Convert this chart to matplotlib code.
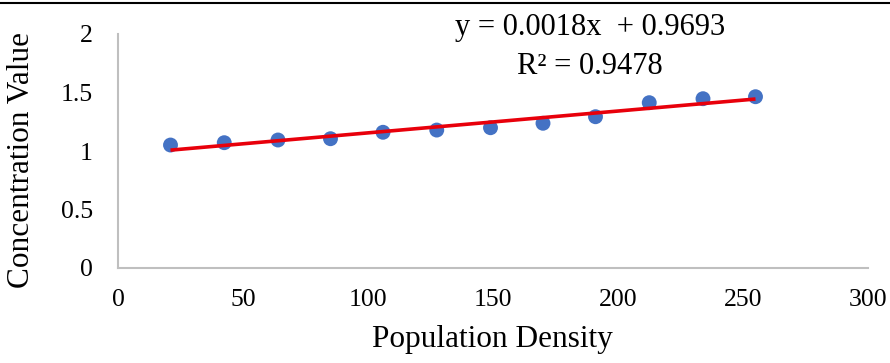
import numpy as np
import matplotlib.pyplot as plt
from matplotlib.lines import Line2D

plt.rcParams['font.family'] = ['Liberation Serif', 'DejaVu Serif']

# --- data ---
density = [21, 42.5, 64, 85, 106, 127.5, 149, 170, 191, 212.5, 234, 255]
concentration = [1.051, 1.071, 1.094, 1.105, 1.160, 1.179,
                 1.199, 1.237, 1.293, 1.413, 1.447, 1.464]
eq_text = "y = 0.0018x  + 0.9693"
r2_text = "R² = 0.9478"
x_ticks = [0, 50, 100, 150, 200, 250, 300]
y_ticks = [0, 0.5, 1, 1.5, 2]

fig = plt.figure(figsize=(8.9, 3.63), dpi=100)
ax = fig.add_axes([118 / 890, 1 - 268 / 363, 750 / 890, 234 / 363])

ax.scatter(density, concentration, s=115, color='#4472C4', zorder=3,
           edgecolors='none')

# linear trendline over the data range
slope, intercept = np.polyfit(density, concentration, 1)
xs = np.array([min(density), max(density)])
ax.plot(xs, slope * xs + intercept, color='#E8000B', lw=2.6, zorder=4,
        solid_capstyle='butt')

ax.set_xlim(0, 300)
ax.set_ylim(0, 2)
ax.set_xticks(x_ticks)
ax.set_yticks(y_ticks)
ax.set_yticklabels(['0', '0.5', '1', '1.5', '2'])
ax.tick_params(length=0, labelsize=18.5, pad=15)
ax.tick_params(axis='y', pad=18)

for side in ['top', 'right']:
    ax.spines[side].set_visible(False)
for side in ['left', 'bottom']:
    ax.spines[side].set_color('#BFBFBF')
    ax.spines[side].set_linewidth(1.5)

# axis titles placed as figure text to match the reference layout
fig.text(492 / 890, 1 - 340 / 363, 'Population Density',
         ha='center', va='center', fontsize=22.5)
fig.text(22 / 890, 1 - 160 / 363, 'Concentration Value', rotation=90,
         ha='center', va='center', fontsize=22.5)

fig.text(590 / 890, 1 - 27 / 363, eq_text, ha='center', va='center',
         fontsize=22)
fig.text(590 / 890, 1 - 66 / 363, r2_text, ha='center', va='center',
         fontsize=22)

# black rule along the top edge
fig.add_artist(Line2D([0, 1], [1 - 3 / 363] * 2, color='black', lw=1.5,
                      transform=fig.transFigure))

fig.savefig('out.png', dpi=100)
